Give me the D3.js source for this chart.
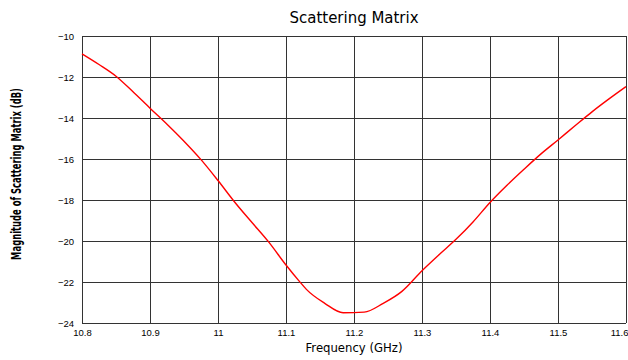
<!DOCTYPE html>
<html>
<head>
<meta charset="utf-8">
<script src="https://cdn.jsdelivr.net/npm/d3@7"></script>
<style>
  html, body { margin: 0; padding: 0; background: #fff; }
  svg { display: block; }
  text { font-family: "DejaVu Sans", "Liberation Sans", sans-serif; fill: #000; }
</style>
</head>
<body>
<svg id="chart" width="628" height="360"></svg>
<script>
// Frequency sweep (GHz) and |S| magnitude (dB)
const freqGHz = [10.8, 10.825, 10.85, 10.875, 10.9, 10.925, 10.95, 10.975, 11.0, 11.025,
                 11.05, 11.075, 11.1, 11.12, 11.13, 11.157, 11.184, 11.215, 11.243, 11.27,
                 11.3, 11.325, 11.35, 11.375, 11.4, 11.425, 11.45, 11.475, 11.5, 11.525,
                 11.55, 11.575, 11.6];
const magnitudeDb = [-10.87, -11.39, -11.96, -12.72, -13.52, -14.30, -15.13, -16.03, -17.05, -18.12,
                     -19.10, -20.07, -21.17, -21.98, -22.36, -23.04, -23.50, -23.47, -23.04, -22.47,
                     -21.45, -20.67, -19.92, -19.07, -18.12, -17.28, -16.50, -15.75, -15.07, -14.38,
                     -13.70, -13.07, -12.47];
const xTicks = [10.8, 10.9, 11.0, 11.1, 11.2, 11.3, 11.4, 11.5, 11.6];
const xTickLabels = ["10.8", "10.9", "11", "11.1", "11.2", "11.3", "11.4", "11.5", "11.6"];
const yTicks = [-24, -22, -20, -18, -16, -14, -12, -10];

const svg = d3.select("#chart");
const margin = { left: 82, right: 2, top: 36, bottom: 37 };
const W = 628, H = 360;
const innerW = W - margin.left - margin.right;
const innerH = H - margin.top - margin.bottom;
const midX = margin.left + innerW / 2;

const x = d3.scaleLinear().domain([10.8, 11.6]).range([margin.left, margin.left + innerW]);
const y = d3.scaleLinear().domain([-24, -10]).range([margin.top + innerH, margin.top]);

// Grid
const grid = svg.append("g").attr("stroke", "#333").attr("stroke-width", 1).attr("shape-rendering", "crispEdges");
grid.selectAll(".vx").data(xTicks).enter().append("line")
  .attr("x1", d => Math.round(x(d)) + 0.5).attr("x2", d => Math.round(x(d)) + 0.5)
  .attr("y1", margin.top).attr("y2", margin.top + innerH);
grid.selectAll(".hy").data(yTicks).enter().append("line")
  .attr("x1", margin.left).attr("x2", margin.left + innerW)
  .attr("y1", d => Math.round(y(d)) + 0.5).attr("y2", d => Math.round(y(d)) + 0.5);

// Tick labels via d3 axes (grid draws the lines)
const tickFont = "'Liberation Sans', Arial, sans-serif";
const xAxis = d3.axisBottom(x).tickValues(xTicks).tickSize(0).tickPadding(6)
  .tickFormat((d, i) => xTickLabels[i]);
const gx = svg.append("g").attr("transform", `translate(0,${margin.top + innerH})`).call(xAxis);
gx.select(".domain").remove();
gx.selectAll("text").attr("font-size", 9.5).style("font-family", tickFont).attr("fill", "#222");
// keep the last label inside the frame
gx.selectAll(".tick").filter(d => d === 11.6).select("text").attr("text-anchor", "end").attr("x", 2);

const yAxis = d3.axisLeft(y).tickValues(yTicks).tickSize(0).tickPadding(8)
  .tickFormat(d => "\u2212" + Math.abs(d));
const gy = svg.append("g").attr("transform", `translate(${margin.left},0)`).call(yAxis);
gy.select(".domain").remove();
gy.selectAll("text").attr("font-size", 9.5).style("font-family", tickFont).attr("fill", "#222");

// Curve
const pts = freqGHz.map((f, i) => [f, magnitudeDb[i]]);
const line = d3.line().x(d => x(d[0])).y(d => y(d[1])).curve(d3.curveMonotoneX);
svg.append("path").datum(pts)
  .attr("d", line).attr("fill", "none").attr("stroke", "#ff0000").attr("stroke-width", 1.4);

// Title
svg.append("text").attr("x", midX).attr("y", 23)
  .attr("text-anchor", "middle").attr("font-size", 16)
  .attr("textLength", 129).attr("lengthAdjust", "spacingAndGlyphs")
  .text("Scattering Matrix");

// Axis titles
svg.append("text").attr("x", midX).attr("y", 352)
  .attr("text-anchor", "middle").attr("font-size", 13)
  .attr("textLength", 97).attr("lengthAdjust", "spacingAndGlyphs")
  .text("Frequency (GHz)");

// Y title: narrow bold face, squeezed horizontally to a fixed span
const yTitle = svg.append("text")
  .attr("text-anchor", "middle").attr("font-size", 13.5).attr("font-weight", "bold")
  .text("Magnitude of Scattering Matrix (dB)");
const naturalLen = yTitle.node().getComputedTextLength();
const squeeze = 172 / naturalLen;
yTitle.attr("transform", `translate(21,174) rotate(-90) scale(${squeeze},1)`);
</script>
</body>
</html>
